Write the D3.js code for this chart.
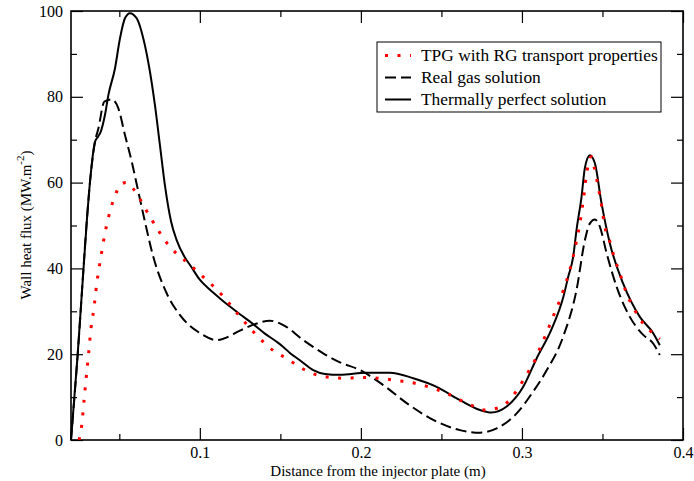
<!DOCTYPE html>
<html>
<head>
<meta charset="utf-8">
<script src="https://cdn.jsdelivr.net/npm/d3@7"></script>
<style>
  body { margin: 0; background: #fff; }
  svg, svg text { font-family: "Times New Roman", Times, "Liberation Serif", "DejaVu Serif", serif; fill: #000; }
</style>
</head>
<body>
<div id="chart"></div>
<script>
// series names, as in the legend
const seriesNames = ['TPG with RG transport properties', 'Real gas solution', 'Thermally perfect solution'];

// x ticks and y ticks
const xMajor = [0.1, 0.2, 0.3, 0.4];
const xMinor = [0.05, 0.15, 0.25, 0.35];
const yMajor = [0, 20, 40, 60, 80, 100];
const yMinor = [10, 30, 50, 70, 90];

// TPG with RG transport properties (red dots)
const tpgX = [0.0250, 0.0266, 0.0281, 0.0297, 0.0309, 0.0324, 0.0341, 0.0360, 0.0384, 0.0411, 0.0432, 0.0448, 0.0473, 0.0510, 0.0541,
  0.0581, 0.0628, 0.0666, 0.0707, 0.0748, 0.0794, 0.0846, 0.0908, 0.0970, 0.1027, 0.1088, 0.1142, 0.1196, 0.1246, 0.1299,
  0.1353, 0.1410, 0.1473, 0.1541, 0.1607, 0.1715, 0.1808, 0.1911, 0.1994, 0.2077, 0.2155, 0.2234, 0.2312, 0.2391, 0.2470,
  0.2542, 0.2615, 0.2691, 0.2764, 0.2843, 0.2909, 0.2962, 0.3006, 0.3049, 0.3086, 0.3117, 0.3149, 0.3178, 0.3209, 0.3240,
  0.3267, 0.3291, 0.3312, 0.3330, 0.3345, 0.3360, 0.3372, 0.3384, 0.3393, 0.3405, 0.3419, 0.3431, 0.3448, 0.3463, 0.3479,
  0.3494, 0.3506, 0.3521, 0.3550, 0.3572, 0.3595, 0.3624, 0.3649, 0.3682, 0.3721, 0.3769, 0.3825, 0.3856];
const tpgY = [0, 3.3, 9.3, 15.5, 20, 26, 30.3, 36.5, 42.3, 48.2, 51.8, 54.1, 56.9, 59.6, 60.0,
  58.8, 56.2, 53.6, 51.0, 48.5, 46.0, 43.8, 41.8, 39.8, 37.8, 35.7, 33.6, 31.2, 28.9, 26.6,
  24.4, 22.3, 20.4, 19.0, 17.3, 15.3, 14.6, 14.4, 14.6, 14.5, 14.2, 13.8, 13.4, 12.7, 11.8,
  10.7, 9.3, 8.0, 7.0, 7.4, 8.8, 11.2, 13.8, 16.5, 19.0, 21.9, 24.6, 27.3, 30.2, 33.0,
  36.0, 38.8, 41.8, 44.7, 47.6, 50.5, 53.6, 56.7, 59.8, 62.9, 65.4, 66.0, 63.7, 61.0, 57.9,
  54.8, 51.7, 48.6, 45.8, 42.7, 40.2, 37.1, 34.2, 31.6, 28.9, 26.4, 24.5, 23.5];

// Real gas solution (dashed)
const realX = [0.0200, 0.0242, 0.0299, 0.0318, 0.0349, 0.0370, 0.0407, 0.0453, 0.0494, 0.0535, 0.0577, 0.0618, 0.0659, 0.0711,
  0.0794, 0.0877, 0.1001, 0.1104, 0.1145, 0.1249, 0.1342, 0.1435, 0.1518, 0.1642, 0.1766, 0.1870, 0.1994, 0.2139, 0.2284,
  0.2449, 0.2615, 0.2739, 0.2843, 0.2967, 0.3070, 0.3150, 0.3256, 0.3339, 0.3391, 0.3422, 0.3453, 0.3484, 0.3526, 0.3588,
  0.3670, 0.3753, 0.3815, 0.3856];
const realY = [0, 20.2, 51.5, 60.2, 69.5, 72.6, 78.9, 79.4, 77.3, 71.1, 64.9, 57.9, 50.9, 42.7,
  34.2, 29.1, 24.9, 23.3, 23.6, 25.5, 27.0, 27.8, 26.8, 23.3, 20.2, 18.1, 16.3, 12.8, 8.6,
  4.7, 2.3, 1.7, 2.7, 6.2, 11.3, 16.0, 24.1, 35.0, 46.6, 50.5, 51.4, 49.7, 43.5, 35.7,
  28.7, 24.5, 22.5, 19.8];

// Thermally perfect solution (solid)
const tpX = [0.0200, 0.0242, 0.0299, 0.0318, 0.0349, 0.0368, 0.0386, 0.0411, 0.0432, 0.0473, 0.0504, 0.0535, 0.0566, 0.0608,
  0.0649, 0.0690, 0.0721, 0.0752, 0.0783, 0.0821, 0.0856, 0.0908, 0.0939, 0.1001, 0.1063, 0.1125, 0.1187, 0.1249, 0.1332,
  0.1404, 0.1477, 0.1518, 0.1559, 0.1621, 0.1704, 0.1777, 0.1870, 0.2035, 0.2180, 0.2325, 0.2470, 0.2615, 0.2739, 0.2811,
  0.2905, 0.3008, 0.3091, 0.3186, 0.3256, 0.3287, 0.3318, 0.3339, 0.3370, 0.3391, 0.3422, 0.3453, 0.3494, 0.3546,
  0.3628, 0.3732, 0.3815, 0.3856];
const tpY = [0, 20.2, 51.5, 60.2, 69.5, 70.7, 72.0, 75.8, 80.4, 86.6, 93.6, 98.3, 99.5, 98.3,
  93.6, 85.9, 78.1, 68.8, 59.4, 51.0, 46.6, 42.5, 40.8, 37.3, 35.0, 33.0, 31.1, 29.3, 27.0,
  24.8, 22.9, 21.7, 20.3, 18.6, 16.3, 15.4, 15.2, 15.7, 15.7, 14.4, 12.4, 9.3, 7.0, 6.4,
  7.8, 12.4, 19.0, 26.0, 33.2, 38.0, 42.7, 49.0, 56.7, 63.5, 66.4, 64.5, 55.2, 45.8,
  36.5, 28.7, 24.9, 22.1];

const width = 694, height = 481;
const margin = { top: 11, right: 11, bottom: 41, left: 71 };
const w = width - margin.left - margin.right;
const h = height - margin.top - margin.bottom;
const serif = '"Times New Roman", Times, "Liberation Serif", serif';

const svg = d3.select('#chart').append('svg')
    .attr('width', width)
    .attr('height', height)
  .append('g')
    .attr('transform', 'translate(' + margin.left + ',' + margin.top + ')');

const x = d3.scaleLinear().domain([0.02, 0.4]).range([0, w]);
const y = d3.scaleLinear().domain([0, 100]).range([h, 0]);

// axes, ticks pointing inward, mirrored on top and right
function styleAxis(g) {
    g.attr('font-family', serif);
    g.select('.domain').remove();
    g.selectAll('line').attr('stroke', '#000').attr('stroke-width', 1.2);
    g.selectAll('text').style('font-size', '16px').style('font-family', serif);
}

svg.append('g').attr('transform', 'translate(0,' + h + ')')
    .call(d3.axisBottom(x).tickValues(xMajor).tickSize(-12).tickPadding(7).tickFormat(d3.format('.1f')))
    .call(styleAxis);
svg.append('g').attr('transform', 'translate(0,' + h + ')')
    .call(d3.axisBottom(x).tickValues(xMinor).tickSize(-6).tickFormat(''))
    .call(styleAxis);
svg.append('g')
    .call(d3.axisTop(x).tickValues(xMajor).tickSize(-12).tickFormat(''))
    .call(styleAxis);
svg.append('g')
    .call(d3.axisTop(x).tickValues(xMinor).tickSize(-6).tickFormat(''))
    .call(styleAxis);
svg.append('g')
    .call(d3.axisLeft(y).tickValues(yMajor).tickSize(-12).tickPadding(8))
    .call(styleAxis);
svg.append('g')
    .call(d3.axisLeft(y).tickValues(yMinor).tickSize(-6).tickFormat(''))
    .call(styleAxis);
svg.append('g').attr('transform', 'translate(' + w + ',0)')
    .call(d3.axisRight(y).tickValues(yMajor).tickSize(-12).tickFormat(''))
    .call(styleAxis);
svg.append('g').attr('transform', 'translate(' + w + ',0)')
    .call(d3.axisRight(y).tickValues(yMinor).tickSize(-6).tickFormat(''))
    .call(styleAxis);

svg.append('rect')
    .attr('width', w).attr('height', h)
    .attr('fill', 'none').attr('stroke', '#000').attr('stroke-width', 1.6);

// curves
const line = d3.line()
    .x(d => x(d[0]))
    .y(d => y(d[1]))
    .curve(d3.curveMonotoneX);

const series = [
    { name: seriesNames[0], xs: tpgX, ys: tpgY, color: '#ff0000', width: 3, dash: '3,9.5' },
    { name: seriesNames[1], xs: realX, ys: realY, color: '#000', width: 2, dash: '11,5' },
    { name: seriesNames[2], xs: tpX, ys: tpY, color: '#000', width: 2, dash: null }
];

// draw solid first, then dashed, dots on top
[series[2], series[1], series[0]].forEach(s => {
    svg.append('path')
        .datum(s.xs.map((v, i) => [v, s.ys[i]]))
        .attr('fill', 'none')
        .attr('stroke', s.color)
        .attr('stroke-width', s.width)
        .attr('stroke-dasharray', s.dash)
        .attr('d', line);
});

// legend
const legend = svg.append('g').attr('transform', 'translate(' + (377 - margin.left) + ',' + (42 - margin.top) + ')');
legend.append('rect')
    .attr('width', 284).attr('height', 70)
    .attr('fill', '#fff').attr('stroke', '#000').attr('stroke-width', 1);

series.forEach((s, i) => {
    const ly = 13.5 + i * 22;
    legend.append('line')
        .attr('x1', 8).attr('x2', 34)
        .attr('y1', ly).attr('y2', ly)
        .attr('stroke', s.color)
        .attr('stroke-width', s.width)
        .attr('stroke-dasharray', s.dash);
    legend.append('text')
        .attr('x', 44).attr('y', ly + 5.5)
        .style('font-family', serif)
        .style('font-size', '17.4px')
        .text(s.name);
});

// axis titles
svg.append('text')
    .attr('x', 378 - margin.left).attr('y', 476 - margin.top)
    .attr('text-anchor', 'middle')
    .style('font-family', serif)
    .style('font-size', '15px')
    .text('Distance from the injector plate (m)');

const ylab = svg.append('text')
    .attr('transform', 'translate(' + (31 - margin.left) + ',' + (225 - margin.top) + ') rotate(-90)')
    .attr('text-anchor', 'middle')
    .style('font-family', serif)
    .style('font-size', '15px');
ylab.append('tspan').text('Wall heat flux (MW.m');
ylab.append('tspan').attr('dy', -7).style('font-size', '11px').text('-2');
ylab.append('tspan').attr('dy', 7).text(')');
</script>
</body>
</html>
